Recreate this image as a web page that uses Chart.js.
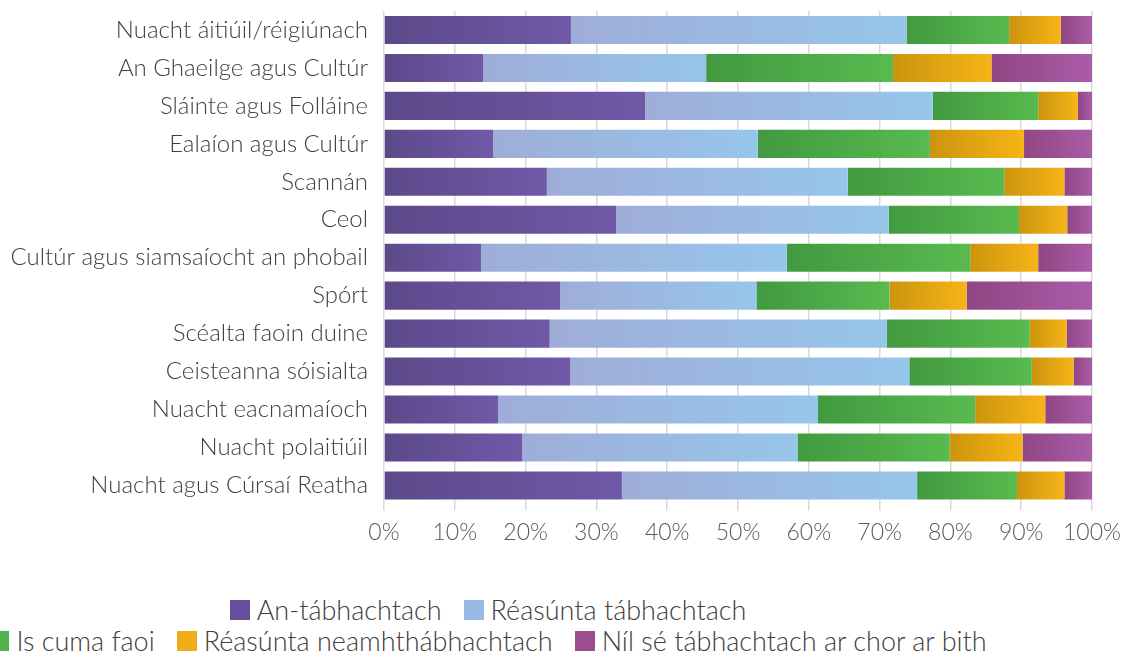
<!DOCTYPE html>
<html>
<head>
    <meta charset="UTF-8">
    <title>Tábhacht ábhar</title>
    <script src="https://cdn.jsdelivr.net/npm/chart.js@4/dist/chart.umd.min.js"></script>
    <style>
        * { margin: 0; padding: 0; box-sizing: border-box; }
        body {
            width: 1131px;
            height: 655px;
            overflow: hidden;
            background: #fff;
            font-family: 'Lato', sans-serif;
            font-weight: 300;
            position: relative;
        }
        .chart-box {
            position: absolute;
            left: 0;
            top: -20px;
            width: 1131px;
            height: 592px;
        }
        .legend {
            position: absolute;
            left: 0;
            top: 594px;
            width: 976px;
        }
        .legend-row {
            display: flex;
            justify-content: center;
            white-space: nowrap;
            height: 31px;
            align-items: center;
        }
        .legend-item {
            display: flex;
            align-items: center;
            margin: 0 11px;
            font-size: 27px;
            color: #404040;
        }
        .legend-item span.sw {
            width: 20px;
            height: 20px;
            margin-right: 7px;
            flex: none;
        }
    </style>
</head>
<body>
    <div class="chart-box"><canvas id="chart"></canvas></div>
    <div class="legend" id="legend"></div>

    <script>
        const categories = [
            'Nuacht áitiúil/réigiúnach',
            'An Ghaeilge agus Cultúr',
            'Sláinte agus Folláine',
            'Ealaíon agus Cultúr',
            'Scannán',
            'Ceol',
            'Cultúr agus siamsaíocht an phobail',
            'Spórt',
            'Scéalta faoin duine',
            'Ceisteanna sóisialta',
            'Nuacht eacnamaíoch',
            'Nuacht polaitiúil',
            'Nuacht agus Cúrsaí Reatha'
        ];

        const seriesNames = [
            'An-tábhachtach',
            'Réasúnta tábhachtach',
            'Is cuma faoi',
            'Réasúnta neamhthábhachtach',
            'Níl sé tábhachtach ar chor ar bith'
        ];

        // percentages, one value per category (top to bottom)
        const anTabhachtach = [26.4, 14.0, 36.9, 15.4, 23.0, 32.8, 13.7, 24.9, 23.4, 26.3, 16.1, 19.5, 33.6];
        const reasuntaTabhachtach = [47.4, 31.5, 40.6, 37.4, 42.5, 38.5, 43.2, 27.7, 47.6, 47.9, 45.2, 38.9, 41.7];
        const isCumaFaoi = [14.5, 26.4, 14.9, 24.3, 22.1, 18.4, 25.9, 18.8, 20.2, 17.3, 22.2, 21.5, 14.1];
        const reasuntaNeamh = [7.3, 13.9, 5.6, 13.3, 8.5, 6.8, 9.6, 10.9, 5.2, 5.9, 9.9, 10.3, 6.7];
        const nilSe = [4.4, 14.2, 2.0, 9.6, 3.9, 3.5, 7.6, 17.7, 3.6, 2.6, 6.6, 9.8, 3.9];

        const xTicks = [0, 10, 20, 30, 40, 50, 60, 70, 80, 90, 100];

        const series = [anTabhachtach, reasuntaTabhachtach, isCumaFaoi, reasuntaNeamh, nilSe];

        // gradient ends (left, right) and flat legend colour per series
        const gradients = [
            ['#5c4989', '#7059a7'],
            ['#9eadd8', '#97c6eb'],
            ['#429a40', '#58ba4f'],
            ['#cc940e', '#f6b517'],
            ['#904584', '#aa5da7']
        ];
        const legendColors = ['#654f9c', '#97b9e3', '#52b24b', '#eeae17', '#9c4d90'];

        const textColor = '#404040';

        function segmentFill(context) {
            const chart = context.chart;
            const d = context.datasetIndex;
            const [c0, c1] = gradients[d];
            if (!chart.chartArea || context.type !== 'data') return c1;
            const i = context.dataIndex;
            let start = 0;
            for (let k = 0; k < d; k++) start += series[k][i];
            const x = chart.scales.x;
            const x0 = x.getPixelForValue(start);
            const x1 = x.getPixelForValue(start + series[d][i]);
            const g = chart.ctx.createLinearGradient(x0, 0, x1, 0);
            g.addColorStop(0, c0);
            g.addColorStop(1, c1);
            return g;
        }

        const chart = new Chart(document.getElementById('chart'), {
            type: 'bar',
            data: {
                labels: categories,
                datasets: series.map((values, d) => ({
                    label: seriesNames[d],
                    data: values,
                    backgroundColor: segmentFill,
                    borderWidth: 0,
                    barPercentage: 0.74,
                    categoryPercentage: 1
                }))
            },
            options: {
                indexAxis: 'y',
                responsive: true,
                maintainAspectRatio: false,
                animation: false,
                layout: { padding: { top: 31, right: 39, bottom: 18, left: 0 } },
                plugins: {
                    legend: { display: false },
                    tooltip: { enabled: false }
                },
                scales: {
                    x: {
                        stacked: true,
                        min: 0,
                        max: 100,
                        afterBuildTicks: (scale) => {
                            scale.ticks = xTicks.map(v => ({ value: v }));
                        },
                        grid: {
                            color: '#d9d9d9',
                            lineWidth: 1.5,
                            tickLength: 6,
                            drawOnChartArea: true
                        },
                        border: { display: false },
                        ticks: {
                            color: '#595959',
                            padding: 8,
                            maxRotation: 0,
                            font: { family: 'Lato', size: 23, weight: 300 },
                            callback: (v) => v + '%'
                        }
                    },
                    y: {
                        stacked: true,
                        grid: { display: false },
                        border: { display: false },
                        afterFit: (scale) => { scale.width = 384; },
                        ticks: {
                            color: textColor,
                            padding: 8,
                            font: { family: 'Lato', size: 24, weight: 300 }
                        }
                    }
                }
            }
        });

        // legend laid out in two rows like the original
        const legendRows = [[0, 1], [2, 3, 4]];
        const legendEl = document.getElementById('legend');
        legendRows.forEach(row => {
            const r = document.createElement('div');
            r.className = 'legend-row';
            row.forEach(d => {
                const item = document.createElement('div');
                item.className = 'legend-item';
                const sw = document.createElement('span');
                sw.className = 'sw';
                sw.style.background = legendColors[d];
                const t = document.createElement('span');
                t.textContent = seriesNames[d];
                item.appendChild(sw);
                item.appendChild(t);
                r.appendChild(item);
            });
            legendEl.appendChild(r);
        });
    </script>
</body>
</html>
